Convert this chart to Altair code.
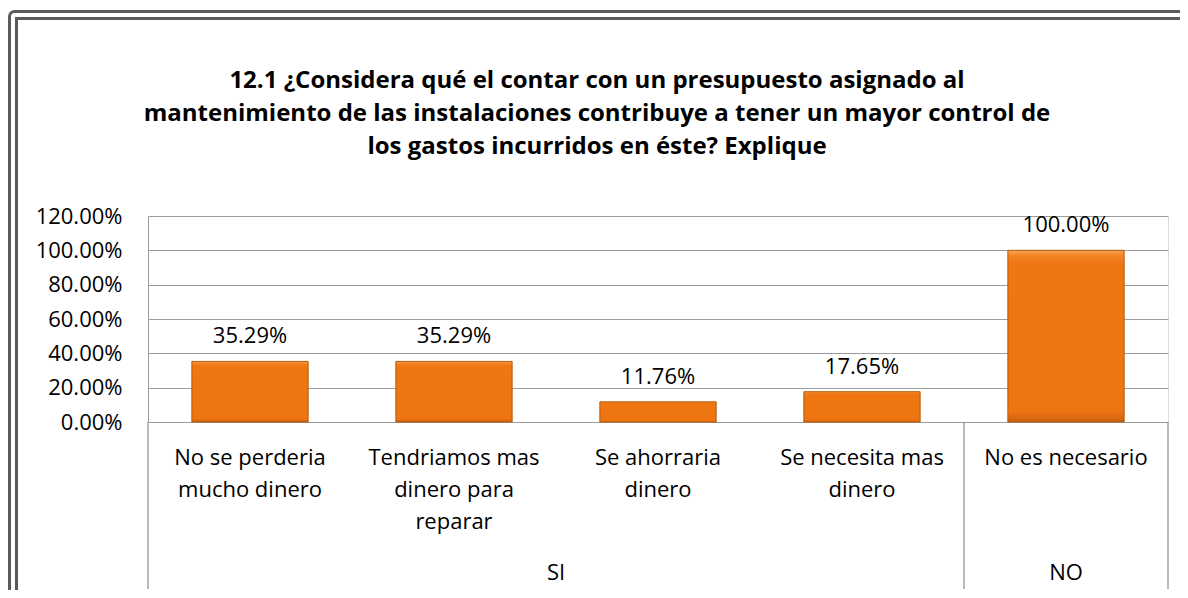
import altair as alt
import pandas as pd

# ---------------- data ----------------
categories = [
    "No se perderia mucho dinero",
    "Tendriamos mas dinero para reparar",
    "Se ahorraria dinero",
    "Se necesita mas dinero",
    "No es necesario",
]
category_lines = [
    ["No se perderia", "mucho dinero"],
    ["Tendriamos mas", "dinero para", "reparar"],
    ["Se ahorraria", "dinero"],
    ["Se necesita mas", "dinero"],
    ["No es necesario"],
]
groups = ["SI", "SI", "SI", "SI", "NO"]
values = [0.3529, 0.3529, 0.1176, 0.1765, 1.0]
value_labels = ["35.29%", "35.29%", "11.76%", "17.65%", "100.00%"]
y_ticks = [0.0, 0.2, 0.4, 0.6, 0.8, 1.0, 1.2]
title_lines = [
    "12.1 ¿Considera qué el contar con un presupuesto asignado al",
    "mantenimiento de las instalaciones contribuye a tener un  mayor control de",
    "los gastos incurridos en éste? Explique",
]

FONT = "Open Sans"
ORANGE_GRAD = alt.LinearGradient(
    gradient="linear",
    x1=0, y1=0, x2=0, y2=1,
    stops=[
        alt.GradientStop(color="#F9A65A", offset=0.0),
        alt.GradientStop(color="#F38524", offset=0.03),
        alt.GradientStop(color="#F07612", offset=0.08),
        alt.GradientStop(color="#EE7411", offset=0.94),
        alt.GradientStop(color="#D8680F", offset=0.98),
        alt.GradientStop(color="#C05E0C", offset=1.0),
    ],
)

df = pd.DataFrame({
    "cat": categories,
    "label": ["\n".join(l) for l in category_lines],
    "group": groups,
    "value": values,
    "vlabel": value_labels,
})

# group spans (in category-index units) derived from the group list
grp_names, grp_start, grp_end = [], [], []
for i, g in enumerate(groups):
    if not grp_names or grp_names[-1] != g:
        grp_names.append(g)
        grp_start.append(i)
        grp_end.append(i + 1)
    else:
        grp_end[-1] = i + 1
grp_df = pd.DataFrame({"group": grp_names, "start": grp_start, "end": grp_end})
bound_df = pd.DataFrame({"pos": grp_start + [len(categories)]})
title_df = pd.DataFrame({"t": ["\n".join(title_lines)]})

W, H = 1020, 206

band_scale = alt.Scale(domain=categories, paddingInner=0.43, paddingOuter=0.215)
xcat = alt.X("cat:N", scale=band_scale, axis=None)
y_axis = alt.Axis(
    values=y_ticks, tickCount=7, format=".2%", title=None, ticks=False,
    labelPadding=26, labelFont=FONT, labelFontSize=22, labelColor="#000000",
    labelOverlap=False, labelBound=False, labelFlush=False,
    grid=True, gridColor="#9C9C9C", gridWidth=1,
    domain=True, domainColor="#9C9C9C", domainWidth=1,
)
y_scale = alt.Scale(domain=[0, 1.2], nice=False)
yval = alt.Y("value:Q", scale=y_scale, axis=y_axis)

bars = alt.Chart(df).mark_bar(
    fill=ORANGE_GRAD, stroke="#B4590C", strokeWidth=1
).encode(x=xcat, y=yval)

vtext = alt.Chart(df).mark_text(
    font=FONT, fontSize=22, color="#000000", baseline="alphabetic", dy=-18
).encode(x=xcat, y=yval, text="vlabel:N")

ctext = alt.Chart(df).mark_text(
    font=FONT, fontSize=22, color="#000000", baseline="alphabetic",
    lineBreak="\n", lineHeight=32,
).encode(x=xcat, y=alt.value(249), text="label:N")

qscale = alt.Scale(domain=[0, len(categories)], nice=False, zero=False)
rules = alt.Chart(bound_df).mark_rule(color="#8C8C8C", strokeWidth=1.2).encode(
    x=alt.X("pos:Q", scale=qscale, axis=None),
    y=alt.value(H),
    y2=alt.value(373),
)

gtext = alt.Chart(grp_df).transform_calculate(
    mid="(datum.start + datum.end) / 2"
).mark_text(
    font=FONT, fontSize=22, color="#000000", baseline="alphabetic"
).encode(
    x=alt.X("mid:Q", scale=qscale, axis=None),
    y=alt.value(364),
    text="group:N",
)

ttext = alt.Chart(title_df).mark_text(
    font=FONT, fontSize=24, fontWeight="bold", color="#000000",
    baseline="alphabetic", align="center", lineBreak="\n", lineHeight=33,
).encode(x=alt.value(449), y=alt.value(-128), text="t:N")

frame_df = pd.DataFrame({"k": [0]})
outer = alt.Chart(frame_df).mark_rect(
    fill=None, stroke="#5A5A5A", strokeWidth=3, cornerRadius=5
).encode(x=alt.value(-138.5), x2=alt.value(1100), y=alt.value(-204.5), y2=alt.value(420))
inner = alt.Chart(frame_df).mark_rect(
    fill=None, stroke="#5A5A5A", strokeWidth=3
).encode(x=alt.value(-131.5), x2=alt.value(1090), y=alt.value(-197.5), y2=alt.value(410))

chart = alt.layer(
    outer, inner, bars, vtext, ctext, rules, gtext, ttext
).resolve_scale(x="independent").properties(
    width=W,
    height=H,
    autosize=alt.AutoSizeParams(type="none"),
    padding={"left": 140, "top": 208, "right": 12, "bottom": 168},
).configure_view(stroke=None).configure(background="white")

chart.save("out.html", embed_options={"renderer": "svg", "actions": False})
